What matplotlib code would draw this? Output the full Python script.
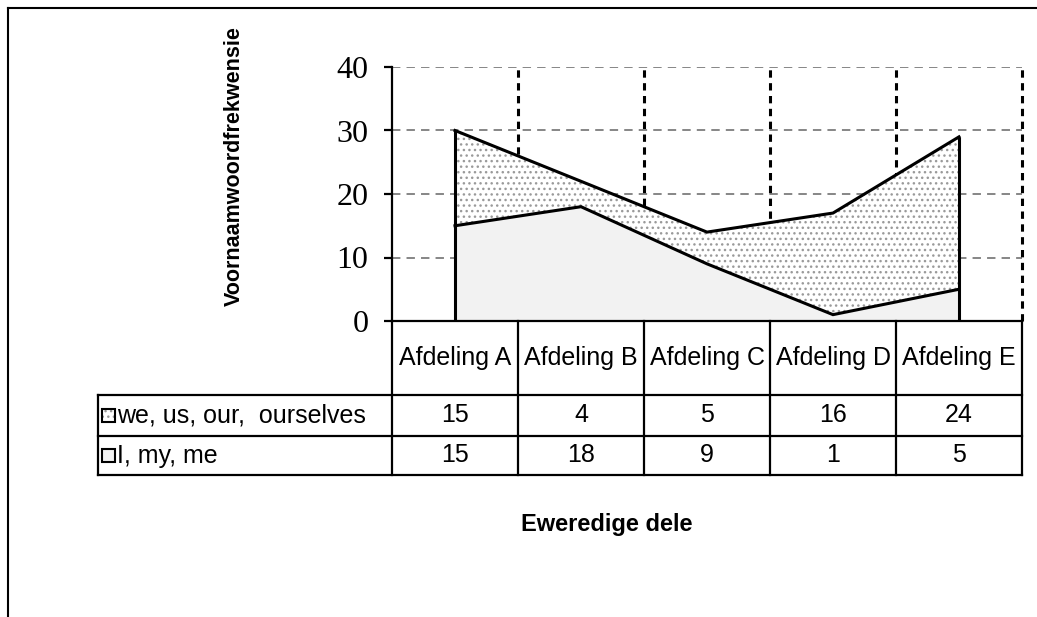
import matplotlib
matplotlib.use("Agg")
import matplotlib.pyplot as plt
from matplotlib.lines import Line2D
from matplotlib.patches import Rectangle
import numpy as np

categories = ["Afdeling A", "Afdeling B", "Afdeling C", "Afdeling D", "Afdeling E"]
series_names = ["we, us, our,  ourselves", "I, my, me"]
we_us = [15, 4, 5, 16, 24]
i_my = [15, 18, 9, 1, 5]
yticks = [0, 10, 20, 30, 40]

W, H = 1037, 617
fig = plt.figure(figsize=(W / 100, H / 100), dpi=100)
fig.patch.set_facecolor("white")

# plot area in pixels
x0, x1 = 392, 1022
y_top, y_bot = 67, 321
ax = fig.add_axes([x0 / W, 1 - y_bot / H, (x1 - x0) / W, (y_bot - y_top) / H])
ax.set_xlim(-0.5, len(categories) - 0.5)
ax.set_ylim(0, 40)
col_px = (x1 - x0) / len(categories)

def px_to_x(px):
    return -0.5 + (px - x0) / col_px

def px_to_yfrac(py):
    return (y_bot - py) / (y_bot - y_top)

x = np.arange(len(categories))
lower = np.array(i_my)
upper = lower + np.array(we_us)
dots = "#9a9a9a"

# grid
for t in yticks[1:]:
    ax.axhline(t, color="#666666", lw=1.1, dashes=(5.5, 4), zorder=1)
ax.vlines(np.arange(len(categories)) + 0.5, 0, 40, color="black", lw=2.2,
          linestyles=(0, (2.4, 1.8)), zorder=1, clip_on=False)

# stacked areas
ax.fill_between(x, 0, lower, facecolor="#f2f2f2", lw=0, zorder=2)
ax.fill_between(x, lower, upper, facecolor="white", hatch="...",
                edgecolor=dots, lw=0, zorder=2)
ax.plot(x, lower, color="black", lw=2.2, zorder=3, solid_joinstyle="miter")
ax.plot(x, upper, color="black", lw=2.2, zorder=3, solid_joinstyle="miter")
ax.vlines([x[0], x[-1]], 0, [upper[0], upper[-1]], color="black", lw=2.2, zorder=3)

# axes styling
for s in ["top", "right"]:
    ax.spines[s].set_visible(False)
ax.spines["left"].set_linewidth(1.6)
ax.spines["bottom"].set_linewidth(1.6)
ax.set_xticks([])
ax.set_yticks(yticks)
ax.tick_params(axis="y", direction="out", length=6, width=1.6, pad=11)
for lab in ax.get_yticklabels():
    lab.set_fontfamily("Liberation Serif")
    lab.set_fontsize(23)

# data table under the axis
tr = ax.get_xaxis_transform()
row_lines = [px_to_yfrac(395), px_to_yfrac(436), px_to_yfrac(475)]
left_x = px_to_x(98)
lw_t = 1.6
for yl in row_lines:
    ax.add_line(Line2D([left_x, len(categories) - 0.5], [yl, yl], transform=tr,
                       color="black", lw=lw_t, clip_on=False))
ax.add_line(Line2D([left_x, left_x], [row_lines[0], row_lines[2]], transform=tr,
                   color="black", lw=lw_t, clip_on=False))
for b in np.arange(len(categories) + 1) - 0.5:
    ax.add_line(Line2D([b, b], [0, row_lines[2]], transform=tr,
                       color="black", lw=lw_t, clip_on=False))

tfont = dict(family="Liberation Sans", fontsize=18)
for i, c in enumerate(categories):
    ax.text(i, row_lines[0] / 2, c, transform=tr, ha="center", va="center", **tfont)
rows = [we_us, i_my]
fills = [dict(facecolor="white", hatch="...", edgecolor=dots),
         dict(facecolor="#f2f2f2", edgecolor="none")]
tops = [row_lines[0], row_lines[1]]
bots = [row_lines[1], row_lines[2]]
sq_h = 13 / (y_bot - y_top)
for r, (name, vals) in enumerate(zip(series_names, rows)):
    yc = (tops[r] + bots[r]) / 2
    for i, v in enumerate(vals):
        ax.text(i, yc, str(v), transform=tr, ha="center", va="center", **tfont)
    ax.text(px_to_x(117), yc, name, transform=tr, ha="left", va="center", **tfont)
    ax.add_patch(Rectangle((px_to_x(102), yc - sq_h / 2), 13 / col_px, sq_h,
                           transform=tr, lw=0, clip_on=False, **fills[r]))
    ax.add_patch(Rectangle((px_to_x(102), yc - sq_h / 2), 13 / col_px, sq_h,
                           transform=tr, facecolor="none", edgecolor="black",
                           lw=1.5, clip_on=False))

# axis titles
fig.text(234 / W, 1 - 166 / H, "Voornaamwoordfrekwensie", rotation=90,
         ha="center", va="center", family="Liberation Sans", fontweight="bold",
         fontsize=15.5)
fig.text(607 / W, 1 - 524 / H, "Eweredige dele", ha="center", va="center",
         family="Liberation Sans", fontweight="bold", fontsize=17)

# chart frame
fig.add_artist(Line2D([8 / W, 8 / W], [0, 1 - 8 / H], color="black", lw=1.5))
fig.add_artist(Line2D([8 / W, 1], [1 - 8 / H, 1 - 8 / H], color="black", lw=1.5))

fig.savefig("out.png", dpi=100)
